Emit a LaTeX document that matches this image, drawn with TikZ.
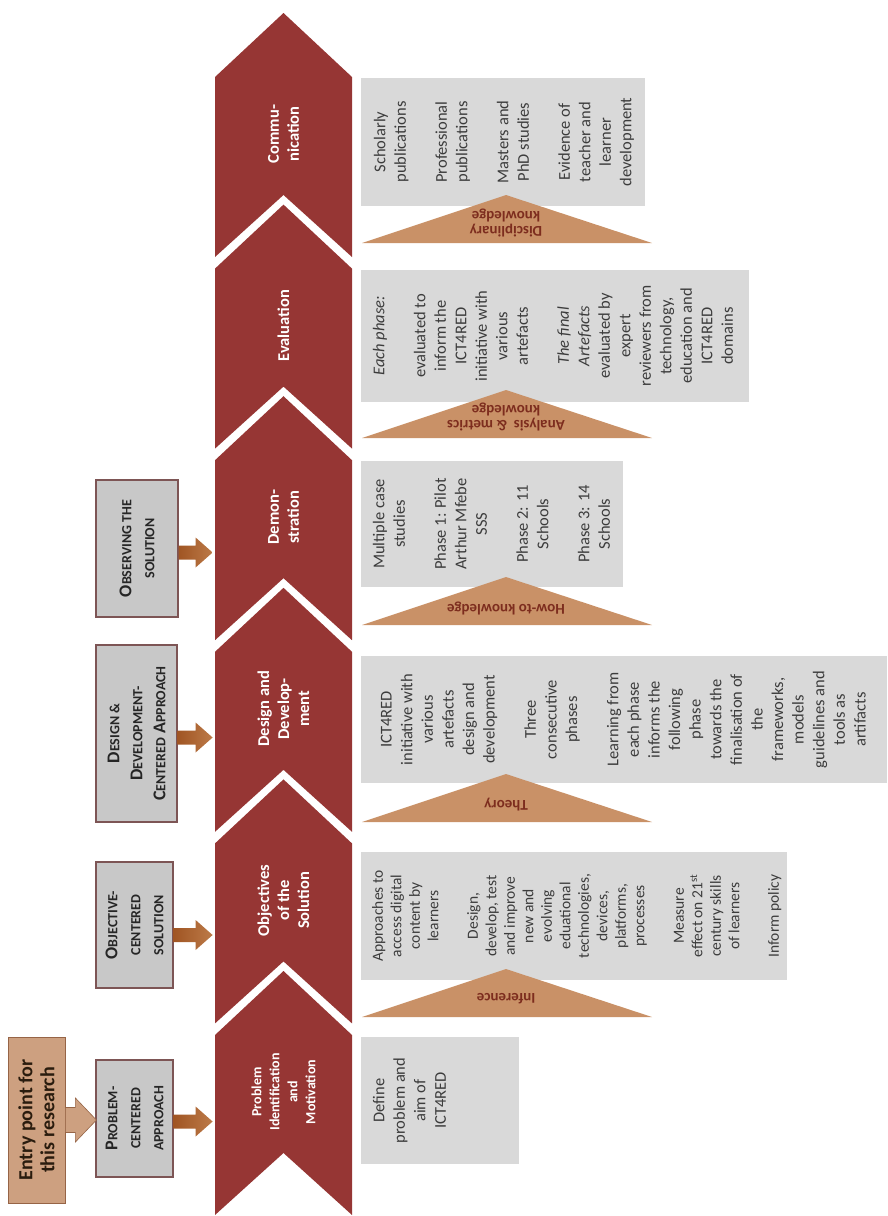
\documentclass[tikz,border=0pt]{standalone}
\usepackage{fontspec}
\setmainfont{Carlito}
\usetikzlibrary{calc}
\definecolor{chevred}{RGB}{150,54,52}
\definecolor{rgray}{RGB}{217,217,217}
\definecolor{lgray}{RGB}{200,200,200}
\definecolor{lborder}{RGB}{125,85,85}
\definecolor{tanfill}{RGB}{201,145,103}
\definecolor{tantext}{RGB}{125,45,30}
\definecolor{brownA}{RGB}{160,85,35}
\definecolor{brownB}{RGB}{188,122,72}
\definecolor{entryfill}{RGB}{205,160,128}
\definecolor{entryborder}{RGB}{150,100,70}
\definecolor{txt}{RGB}{60,60,60}
\newcommand\fsc[2]{{\fontsize{18}{23}\selectfont #1}{\fontsize{14}{23}\selectfont #2}}
\newcommand\chev[4]{%
  \fill[chevred] (283.5,#2-64) -- (352,#2) -- (352,#2+180) -- (283.5,#2+118) -- (215,#2+180) -- (215,#2) -- cycle;
  \node[chevtext,#4] (#1) at (283.5,#2+57) {#3};}
\newcommand\tri[4]{%
  \fill[tanfill] (362,#2) -- (652,#2) -- (506,#2-48) -- cycle;
  \node[tritext] (#1) at (506,#2-#4) {#3};}
\newcommand\blockarr[6]{%
  \path[#1] (#2) ++(0,-#5) -- ++({#3-#4},0) -- ++(0,{#5-#6}) -- ++(#4,#6) -- ++(-#4,#6) -- ++(0,{#5-#6}) -- ++({-(#3-#4)},0) -- cycle;}
\tikzset{
  chevtext/.style={rotate=90, text=white, font=\bfseries\fontsize{16.5}{20}\selectfont, align=center, inner sep=0},
  lbox/.style={rotate=90, draw=lborder, line width=1.2pt, fill=lgray, inner sep=0, align=center,
    font=\bfseries\fontsize{18}{23}\selectfont, text=black!85},
  rbox/.style={fill=rgray, inner sep=0},
  rtext/.style={rotate=90, anchor=north, align=center, inner sep=0, text=txt, font=\fontsize{16.5}{20.5}\selectfont},
  tritext/.style={rotate=180, text=tantext, font=\bfseries\fontsize{15}{15}\selectfont, align=center, inner sep=0},
  barr/.style={left color=brownA, right color=brownB},
  earr/.style={fill=entryfill, draw=entryborder, line width=0.6pt},
}
\begin{document}
\begin{tikzpicture}[x=1pt,y=-1pt]
\useasboundingbox (0,0) rectangle (888,1216);
% chevrons
\chev{chComm}{77}{Commu-\\nication}{}
\chev{chEval}{268.6}{Evaluation}{}
\chev{chDemo}{460.2}{Demon-\\stration}{}
\chev{chDes}{651.8}{Design and\\Develop-\\ment}{}
\chev{chObj}{843.4}{Objectives\\of the\\Solution}{}
\chev{chProb}{1035}{Problem\\Identification\\and\\Motivation}{font=\bfseries\fontsize{14}{18}\selectfont}
% right boxes
\node[rbox, minimum width=284, minimum height=128] (cbox) at (503,142) {};
\node[rbox, minimum width=388, minimum height=132] (ebox) at (555,336) {};
\node[rbox, minimum width=262, minimum height=126] (dbox) at (492,524) {};
\node[rbox, minimum width=526, minimum height=127] (gbox) at (624,719.5) {};
\node[rbox, minimum width=426, minimum height=128] (obox) at (574,916) {};
\node[rbox, minimum width=158, minimum height=127] (pbox) at (440,1100.5) {};
\node[rtext] (ctext) at ([xshift=13pt]cbox.west) {Scholarly\\publications\\[20.5pt]Professional\\publications\\[20.5pt]Masters and\\PhD studies\\[20.5pt]Evidence of\\teacher and\\learner\\development};
\node[rtext] (etext) at ([xshift=12pt]ebox.west) {\textit{Each phase:}\\[20.5pt]evaluated to\\inform the\\ICT4RED\\initiative with\\various\\artefacts\\[20.5pt]\textit{The final}\\\textit{Artefacts}\\evaluated by\\expert\\reviewers from\\technology,\\education and\\ICT4RED\\domains};
\node[rtext] (dtext) at ([xshift=12pt]dbox.west) {Multiple case\\studies\\[20.5pt]Phase 1: Pilot\\Arthur Mfebe\\SSS\\[20.5pt]Phase 2: 11\\Schools\\[20.5pt]Phase 3: 14\\Schools};
\node[rtext, font=\fontsize{16.5}{20.6}\selectfont] (gtext) at ([xshift=20pt]gbox.west) {ICT4RED\\initiative with\\various\\artefacts\\design and\\development\\[20.6pt]Three\\consecutive\\phases\\[20.6pt]Learning from\\each phase\\informs the\\following\\phase\\towards the\\finalisation of\\the\\frameworks,\\models\\guidelines and\\tools as\\artifacts};
\node[rtext, font=\fontsize{15.5}{18.5}\selectfont] (otext) at ([xshift=11pt]obox.west) {Approaches to\\access digital\\content by\\learners\\[21pt]Design,\\develop, test\\and improve\\new and\\evolving\\eduational\\technologies,\\devices,\\platforms,\\processes\\[21pt]Measure\\effect on 21\textsuperscript{st}\\century skills\\of learners\\[21pt]Inform policy};
\node[rtext] (ptext) at ([xshift=12pt]pbox.west) {Define\\problem and\\aim of\\ICT4RED};
% triangles
\tri{tDisc}{243}{Disciplinary\\knowledge}{20}
\tri{tAna}{438}{Analysis~~\& metrics\\knowledge}{21}
\tri{tHow}{625}{How-to knowledge}{17}
\tri{tTheo}{822}{Theory}{17}
\tri{tInf}{1017}{Inference}{18}
% left boxes
\node[lbox, minimum width=137, minimum height=82] (lObs) at (137,548.5) {\fsc{O}{BSERVING THE}\\\fsc{}{SOLUTION}};
\node[lbox, minimum width=177, minimum height=81] (lDes) at (136.5,733.5) {\fsc{D}{ESIGN \&}\\\fsc{D}{EVELOPMENT-}\\\fsc{C}{ENTERED} \fsc{A}{PPROACH}};
\node[lbox, minimum width=126, minimum height=77] (lObj) at (134.5,925) {\fsc{O}{BJECTIVE-}\\\fsc{}{CENTERED}\\\fsc{}{SOLUTION}};
\node[lbox, minimum width=117, minimum height=77] (lProb) at (134.5,1118.5) {\fsc{P}{ROBLEM-}\\\fsc{}{CENTERED}\\\fsc{}{APPROACH}};
\node[rotate=90, fill=entryfill, draw=entryborder, line width=0.8pt, minimum width=166, minimum height=57, inner sep=0, align=center,
  font=\bfseries\fontsize{20}{22}\selectfont, text=black!78!brown] (entry) at (36.5,1120) {Entry point for\\this research};
% arrows
\blockarr{barr}{$(lObs.south)+(0,4)$}{34}{17}{7}{15}
\blockarr{barr}{$(lDes.south)+(0,4)$}{35}{17}{7}{15}
\blockarr{barr}{$(lObj.south)+(0,10)$}{39}{17}{7}{15}
\blockarr{barr}{$(lProb.south)+(0,3)$}{39}{17}{7}{15}
\blockarr{earr}{entry.south}{31}{21}{12.5}{22}
\end{tikzpicture}
\end{document}
